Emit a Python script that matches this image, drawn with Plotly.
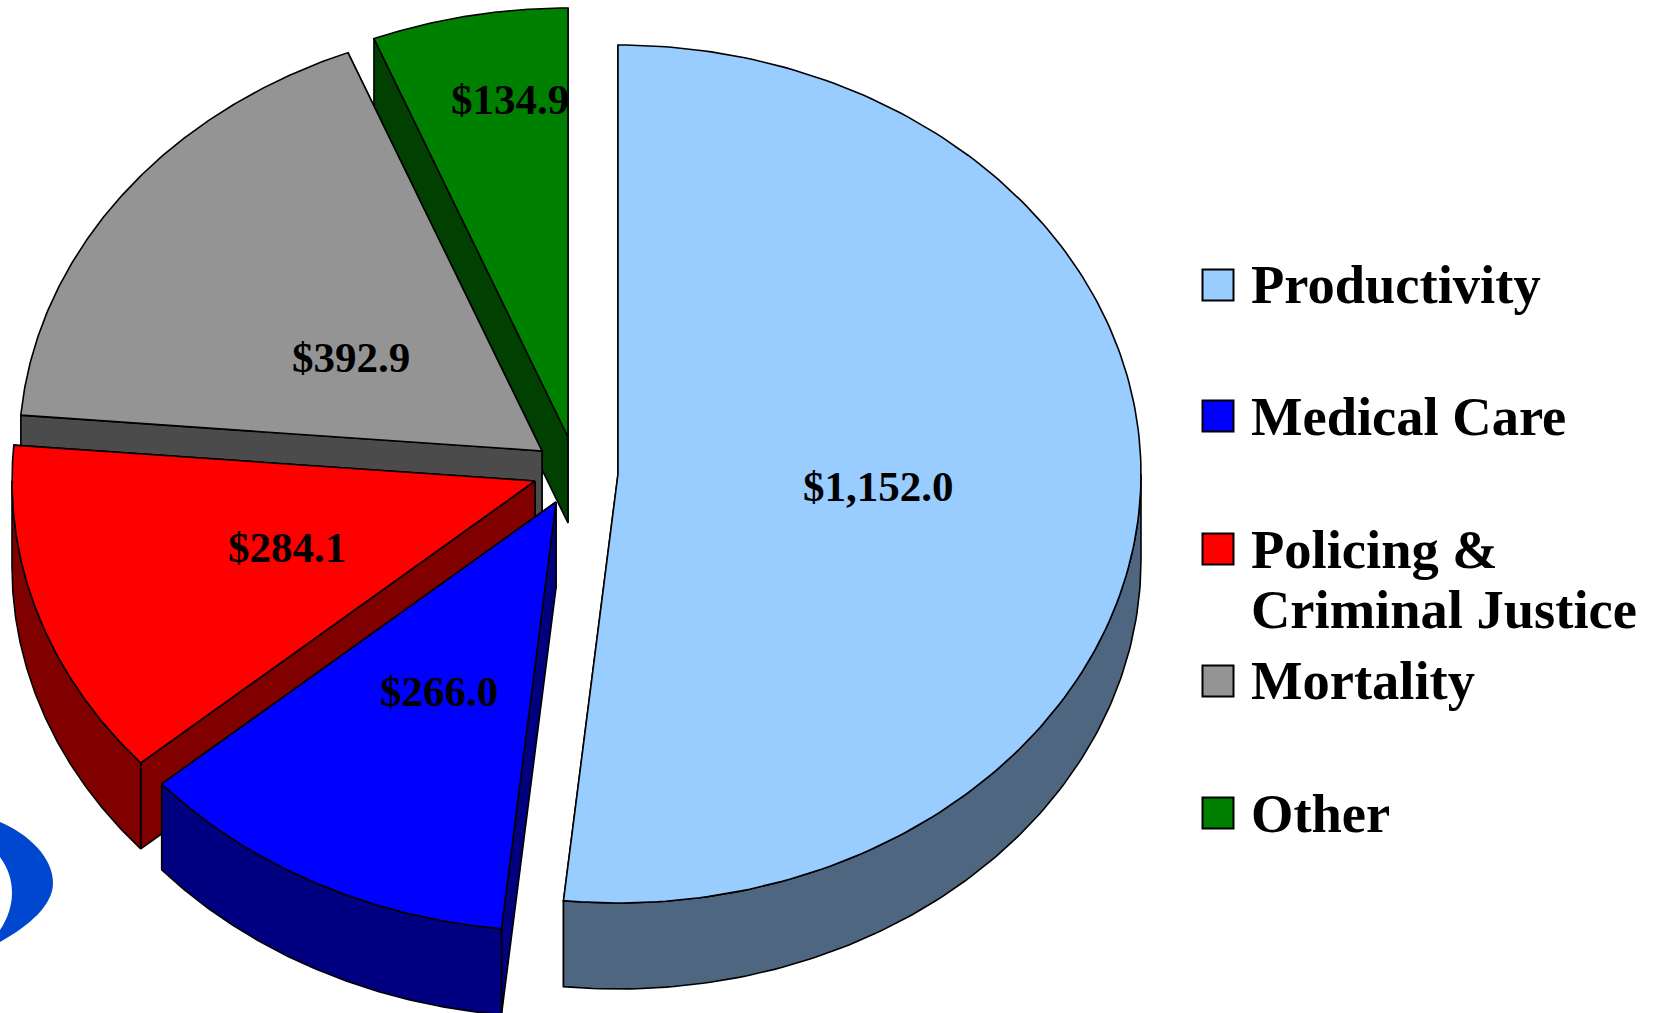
import numpy as np
import plotly.graph_objects as go

categories = ["Productivity", "Medical Care", "Policing & Criminal Justice", "Mortality", "Other"]
values = [1152.0, 266.0, 284.1, 392.9, 134.9]
legend_lines = [["Productivity"], ["Medical Care"], ["Policing &", "Criminal Justice"], ["Mortality"], ["Other"]]
top_colors = ["#99ccff", "#0000ff", "#ff0000", "#949494", "#008000"]
wall_colors = ["#4f6680", "#000080", "#800000", "#4b4b4b", "#004000"]

WIDTH, HEIGHT = 1656, 1013
RX, RY, DEPTH = 523, 429, 86
apex_x = [618, 556, 535, 542, 568]
apex_y = [474, 502, 481, 451, 437]
label_x = [878, 439, 287, 351, 510]
label_y = [486, 691, 547, 357, 99]
swatch_x = 1218
swatch_y = [285, 416, 549, 681, 813]
legend_text_x = 1252
legend_line_y = [[284], [416], [549, 609], [680], [813]]
FONT = "Liberation Serif"
LINE = dict(color="black", width=1.6)

fractions = np.array(values) / sum(values)
ends = np.cumsum(fractions) * 360.0
starts = ends - fractions * 360.0


def rim(cx, cy, angles_deg, dy=0.0):
    a = np.radians(angles_deg)
    return cx + RX * np.sin(a), cy - RY * np.cos(a) + dy


def cut_face(cx, cy, angle):
    rx, ry = rim(cx, cy, np.array([angle]))
    return [cx, rx[0], rx[0], cx, cx], [cy, ry[0], ry[0] + DEPTH, cy + DEPTH, cy]


def add_poly(fig, xs, ys, color, name):
    fig.add_trace(go.Scatter(x=list(xs), y=list(ys), mode="lines", fill="toself", fillcolor=color,
                             line=LINE, name=name, showlegend=False, hoverinfo="skip"))


fig = go.Figure()

# painter's order: farthest slice first
for i in [4, 3, 2, 1, 0]:
    cx, cy = apex_x[i], apex_y[i]
    xs, ys = cut_face(cx, cy, ends[i])
    add_poly(fig, xs, ys, wall_colors[i], categories[i])
    xs, ys = cut_face(cx, cy, starts[i])
    add_poly(fig, xs, ys, wall_colors[i], categories[i])
    lo, hi = max(starts[i], 90.0), min(ends[i], 270.0)
    if hi > lo:
        ang = np.linspace(lo, hi, 120)
        x_up, y_up = rim(cx, cy, ang)
        x_dn, y_dn = rim(cx, cy, ang[::-1], DEPTH)
        add_poly(fig, np.r_[x_up, x_dn, x_up[0]], np.r_[y_up, y_dn, y_up[0]], wall_colors[i], categories[i])
    ang = np.linspace(starts[i], ends[i], 200)
    x_top, y_top = rim(cx, cy, ang)
    add_poly(fig, np.r_[cx, x_top, cx], np.r_[cy, y_top, cy], top_colors[i], categories[i])

# legend swatches
fig.add_trace(go.Scatter(x=[swatch_x] * len(categories), y=swatch_y, mode="markers", showlegend=False,
                         hoverinfo="skip",
                         marker=dict(symbol="square", size=31, color=top_colors,
                                     line=dict(color="black", width=2))))

annotations = []
for v, x, y in zip(values, label_x, label_y):
    annotations.append(dict(x=x, y=y, text=f"<b>${v:,.1f}</b>", showarrow=False,
                            font=dict(family=FONT, size=43, color="black"),
                            xanchor="center", yanchor="middle"))
for lines, ys in zip(legend_lines, legend_line_y):
    for t, y in zip(lines, ys):
        annotations.append(dict(x=legend_text_x, y=y, text=f"<b>{t}</b>", showarrow=False,
                                font=dict(family=FONT, size=54.5, color="black"),
                                xanchor="left", yanchor="middle", xshift=-3))

logo = dict(type="path",
            path="M0,822 C30,835 53,858 53,883 C53,905 30,925 0,942 L0,930 "
                 "C8,918 12,905 12,893 C12,880 8,868 0,857 Z",
            fillcolor="#0047cf", line=dict(width=0), layer="below")

fig.update_layout(
    width=WIDTH, height=HEIGHT, margin=dict(l=0, r=0, t=0, b=0),
    paper_bgcolor="white", plot_bgcolor="white", showlegend=False,
    xaxis=dict(range=[0, WIDTH], visible=False, fixedrange=True),
    yaxis=dict(range=[HEIGHT, 0], visible=False, fixedrange=True),
    annotations=annotations, shapes=[logo],
)

fig.write_html("out.html", config={"displayModeBar": False},
               post_script="document.body.style.margin='0';document.body.style.overflow='hidden';")
